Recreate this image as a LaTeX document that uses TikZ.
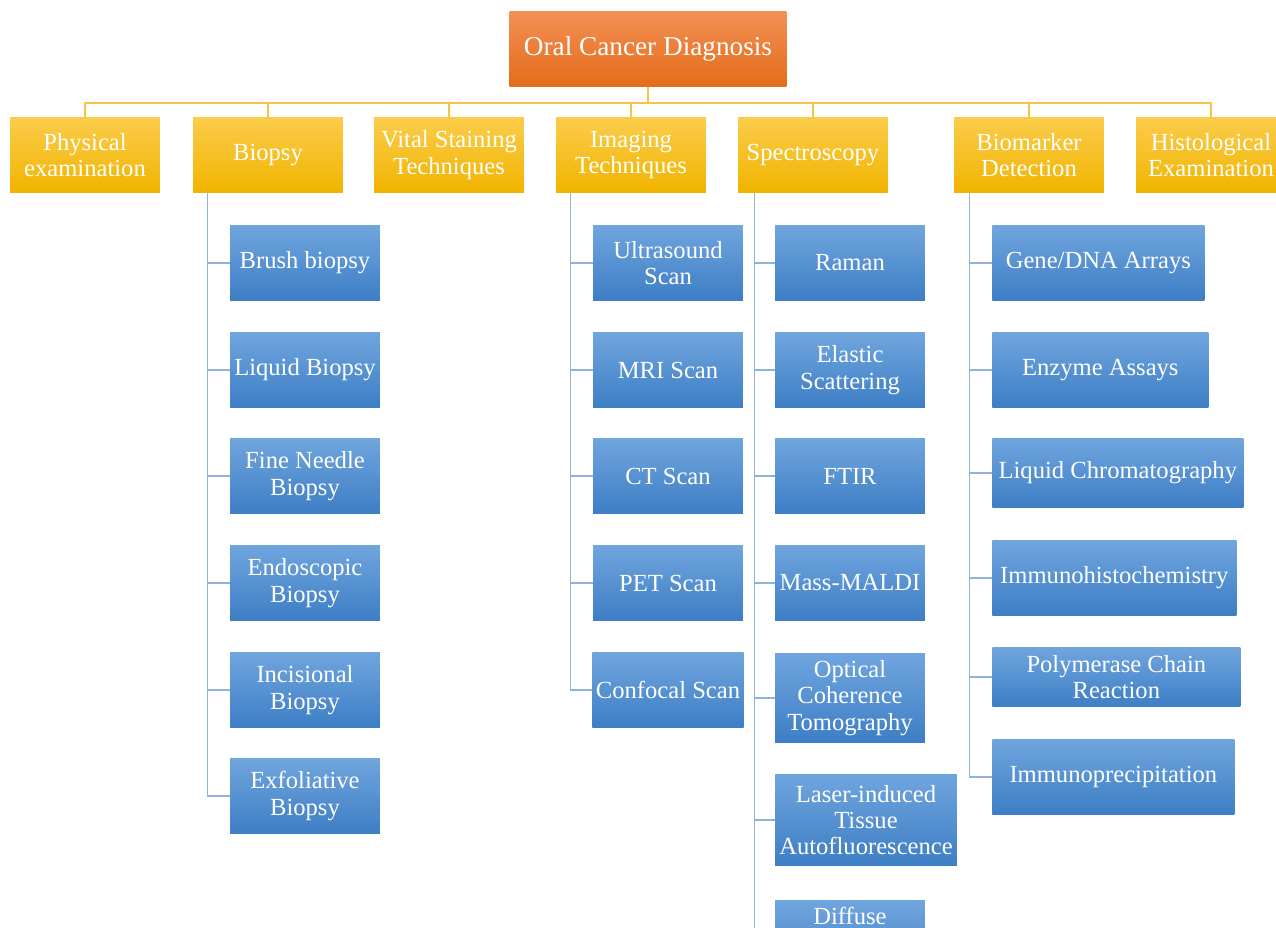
\documentclass[tikz,border=0pt]{standalone}
\usepackage{fontspec}
\setmainfont{Liberation Serif}
\usetikzlibrary{positioning}

\definecolor{rootTop}{HTML}{F39055}
\definecolor{rootBot}{HTML}{E46C1A}
\definecolor{catTop}{HTML}{FBCC4A}
\definecolor{catBot}{HTML}{F1B400}
\definecolor{subTop}{HTML}{70A5DE}
\definecolor{subBot}{HTML}{3D7EC5}
\definecolor{catLine}{HTML}{F6C446}
\definecolor{subLine}{HTML}{8FB4DA}

\tikzset{
  rootbox/.style={top color=rootTop, bottom color=rootBot, text=white,
    minimum width=5.54cm, minimum height=1.5cm, align=center, inner sep=2pt,
    font=\fontsize{15.5}{17}\selectfont},
  catbox/.style={top color=catTop, bottom color=catBot, text=white,
    minimum width=3cm, minimum height=1.5cm, align=center, inner sep=2pt},
  subbox/.style={top color=subTop, bottom color=subBot, text=white,
    minimum width=3cm, minimum height=1.5cm, align=center, inner sep=2pt},
  catline/.style={catLine, line width=1.1pt},
  subline/.style={subLine, line width=0.8pt}
}

\begin{document}
\begin{tikzpicture}[x=0.02cm, y=-0.02cm, font=\fontsize{14}{15}\selectfont]

	\clip (0,0) rectangle (1276,928);
	\fill[white] (0,0) rectangle (1276,928);

	%The root
	\node[rootbox] (root) at (648,49) {Oral Cancer Diagnosis};

	%The categories
	\node[catbox] (phys) at (85,155) {Physical\\examination};
	\node[catbox] (biopsy) at (268,155) {Biopsy};
	\node[catbox] (vital) at (449,155) {Vital Staining\\Techniques};
	\node[catbox] (imaging) at (631,155) {Imaging\\Techniques};
	\node[catbox] (spectro) at (813,155) {Spectroscopy};
	\node[catbox] (biomark) at (1029,155) {Biomarker\\Detection};
	\node[catbox] (histo) at (1211,155) {Histological\\Examination};

	\coordinate (bus) at (648,103);
	\draw[catline] (root.south) -- (bus);
	\draw[catline] (phys.north) |- (bus) -| (histo.north);
	\foreach \c in {biopsy,vital,imaging,spectro,biomark}
		\draw[catline] (\c.north) -- (\c.north |- bus);

	%Biopsy
	\node[subbox] (brush) at (305,263) {Brush biopsy};
	\node[subbox] (liquid) at (305,370) {Liquid Biopsy};
	\node[subbox] (fine) at (305,476) {Fine Needle\\Biopsy};
	\node[subbox] (endo) at (305,583) {Endoscopic\\Biopsy};
	\node[subbox] (incis) at (305,690) {Incisional\\Biopsy};
	\node[subbox] (exfol) at (305,796) {Exfoliative\\Biopsy};

	\coordinate (bt) at ([xshift=0.3cm]biopsy.south west);
	\draw[subline] (bt) |- (exfol.west);
	\foreach \n in {brush,liquid,fine,endo,incis}
		\draw[subline] (bt |- \n.west) -- (\n.west);

	%Imaging
	\node[subbox] (ultra) at (668,263) {Ultrasound\\Scan};
	\node[subbox] (mri) at (668,370) {MRI Scan};
	\node[subbox] (ct) at (668,476) {CT Scan};
	\node[subbox] (pet) at (668,583) {PET Scan};
	\node[subbox] (confocal) at (668,690) {Confocal Scan};

	\coordinate (it) at ([xshift=0.3cm]imaging.south west);
	\draw[subline] (it) |- (confocal.west);
	\foreach \n in {ultra,mri,ct,pet}
		\draw[subline] (it |- \n.west) -- (\n.west);

	%Spectroscopy
	\node[subbox] (raman) at (850,263) {Raman};
	\node[subbox] (elastic) at (850,370) {Elastic\\Scattering};
	\node[subbox] (ftir) at (850,476) {FTIR};
	\node[subbox] (maldi) at (850,583) {Mass-MALDI};
	\node[subbox, minimum height=1.8cm] (oct) at (850,698) {Optical\\Coherence\\Tomography};
	\node[subbox, minimum width=3.64cm, minimum height=1.84cm] (laser) at (866,820)
		{Laser-induced\\Tissue\\Autofluorescence};
	\node[subbox, anchor=north, inner ysep=4pt, text depth=1.1cm]
		(diffuse) at (850,900) {Diffuse};

	\coordinate (st) at ([xshift=0.34cm]spectro.south west);
	\draw[subline] (st) -- (st |- 0,928);
	\foreach \n in {raman,elastic,ftir,maldi,oct,laser}
		\draw[subline] (st |- \n.west) -- (\n.west);

	%Biomarker detection
	\node[subbox, anchor=west, minimum width=4.24cm] (gene) at (992,263) {Gene/DNA Arrays};
	\node[subbox, anchor=west, minimum width=4.32cm] (enzyme) at (992,370) {Enzyme Assays};
	\node[subbox, anchor=west, minimum width=5.02cm, minimum height=1.4cm] (lc) at (992,473)
		{Liquid Chromatography};
	\node[subbox, anchor=west, minimum width=4.88cm] (ihc) at (992,578) {Immunohistochemistry};
	\node[subbox, anchor=west, minimum width=4.96cm, minimum height=1.2cm] (pcr) at (992,677)
		{Polymerase Chain\\Reaction};
	\node[subbox, anchor=west, minimum width=4.84cm] (ip) at (992,777) {Immunoprecipitation};

	\coordinate (mt) at ([xshift=0.32cm]biomark.south west);
	\draw[subline] (mt) |- (ip.west);
	\foreach \n in {gene,enzyme,lc,ihc,pcr}
		\draw[subline] (mt |- \n.west) -- (\n.west);

\end{tikzpicture}
\end{document}
